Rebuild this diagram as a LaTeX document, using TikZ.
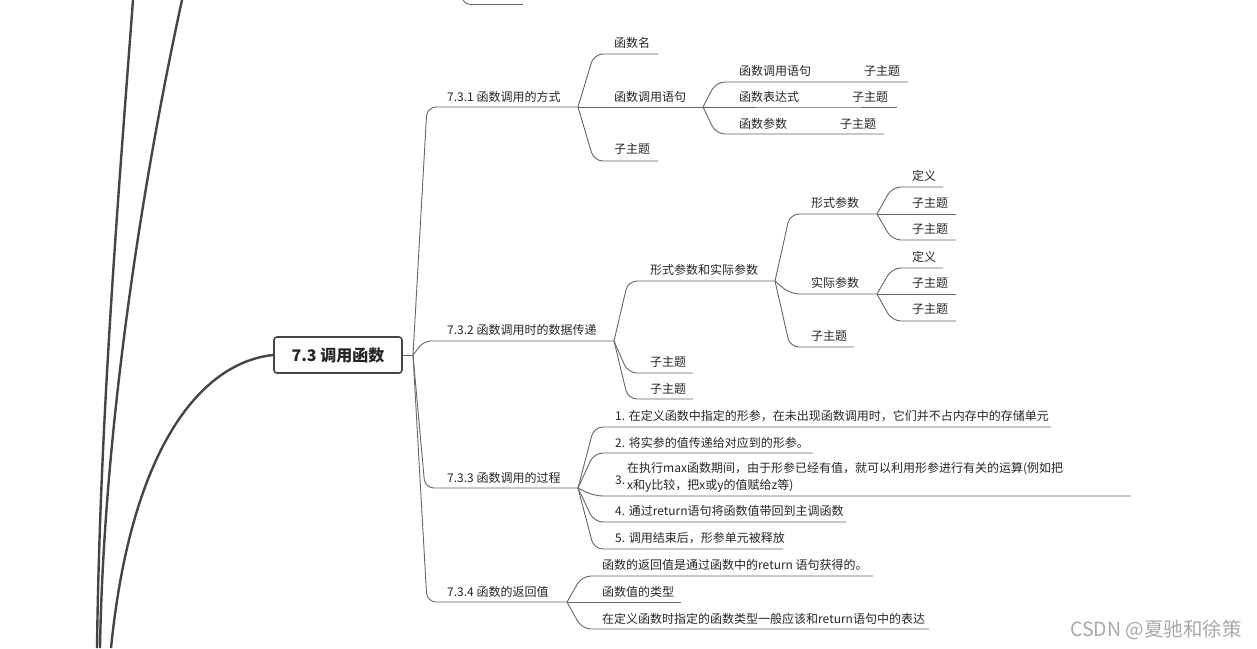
\documentclass[tikz,border=0pt]{standalone}
\usepackage{fontspec}
\setmainfont{Noto Sans CJK SC}
\definecolor{txtc}{HTML}{262626}
\definecolor{linec}{HTML}{666666}
\definecolor{boldc}{HTML}{454545}
\definecolor{wmc}{HTML}{A8A8A8}
\begin{document}
\begin{tikzpicture}[x=1pt,y=-1pt,
  txt/.style={anchor=west,inner sep=0pt,text=txtc,font=\fontsize{12}{16}\selectfont},
  ln/.style={draw=linec,line width=0.9pt,rounded corners=9pt},
  big/.style={draw=boldc,line width=2.4pt},
  central/.style={draw=boldc,line width=1.6pt,fill=white,rounded corners=3pt,minimum width=128pt,minimum height=36pt,inner sep=0pt,text=txtc,font=\fontsize{16}{18}\selectfont\bfseries}]
\useasboundingbox (0,0) rectangle (1257,648);
% big curves on the left
\coordinate (ta) at (133,0); \coordinate (ba) at (97,648);
\coordinate (tb) at (182,0); \coordinate (bb) at (100,648);
\coordinate (bc) at (111,648);
\draw[big] (ta) .. controls (118,200) and (100,420) .. (ba);
\draw[big] (tb) .. controls (145,170) and (104,420) .. (bb);
% stub at top
\coordinate (st0) at (462,-2); \coordinate (st2) at (523,4.5);
\draw[ln,rounded corners=5pt] (st0) -- (465,4.5) -- (st2);
% central
\node[central] (c) at (338,355) {7.3 调用函数};
\draw[big] (c.west) .. controls (205,362) and (132,440) .. (bc);
\coordinate (J0) at (413,355);
\draw[ln] (c.east) -- (J0);
% level 1 coordinates
\coordinate (ak) at (427,107); \coordinate (ae) at (578,107);
\coordinate (bk) at (424,341); \coordinate (be) at (614,341);
\coordinate (ck) at (425,488); \coordinate (ce) at (578,488);
\coordinate (dk) at (427,602); \coordinate (de) at (567,602);
\draw[ln] (J0) -- (ak) -- (ae);
\draw[ln,rounded corners=7pt] (J0) -- (bk) -- (be);
\draw[ln] (J0) -- (ck) -- (ce);
\draw[ln] (J0) -- (dk) -- (de);
\node[txt] (a) at (447,97) {7.3.1 函数调用的方式};
\node[txt] (b) at (447,330) {7.3.2 函数调用时的数据传递};
\node[txt] (cc) at (447,478) {7.3.3 函数调用的过程};
\node[txt] (d) at (447,592) {7.3.4 函数的返回值};
% ---- 7.3.1 children
\coordinate (a1k) at (594,54); \coordinate (a1e) at (658,54);
\coordinate (a2e) at (703,107);
\coordinate (a3k) at (594,161); \coordinate (a3e) at (658,161);
\draw[ln] (ae) -- (a1k) -- (a1e);
\draw[ln] (ae) -- (a2e);
\draw[ln] (ae) -- (a3k) -- (a3e);
\node[txt] (a1) at (614,43) {函数名};
\node[txt] (a2) at (614,97) {函数调用语句};
\node[txt] (a3) at (614,149) {子主题};
% level 3 under a2
\coordinate (a21k) at (716,82); \coordinate (a21e) at (828,82); \coordinate (a21x) at (908,82);
\coordinate (a22e) at (817,107); \coordinate (a22x) at (897,107);
\coordinate (a23k) at (716,134); \coordinate (a23e) at (805,134); \coordinate (a23x) at (884,134);
\draw[ln] (a2e) -- (a21k) -- (a21e) -- (a21x);
\draw[ln] (a2e) -- (a22e) -- (a22x);
\draw[ln] (a2e) -- (a23k) -- (a23e) -- (a23x);
\node[txt] (a21) at (739,71) {函数调用语句};
\node[txt] (a21s) at (864,71) {子主题};
\node[txt] (a22) at (739,97) {函数表达式};
\node[txt] (a22s) at (852,97) {子主题};
\node[txt] (a23) at (739,124) {函数参数};
\node[txt] (a23s) at (840,124) {子主题};
% ---- 7.3.2 children
\coordinate (b1k) at (628,281); \coordinate (b1e) at (775,281);
\coordinate (b2k) at (628,373); \coordinate (b2e) at (693,373);
\coordinate (b3k) at (628,399); \coordinate (b3e) at (693,399);
\draw[ln] (be) -- (b1k) -- (b1e);
\draw[ln] (be) -- (b2k) -- (b2e);
\draw[ln] (be) -- (b3k) -- (b3e);
\node[txt] (b1) at (650,270) {形式参数和实际参数};
\node[txt] (b2) at (650,362) {子主题};
\node[txt] (b3) at (650,389) {子主题};
\coordinate (b11k) at (790,214); \coordinate (b11e) at (877,214);
\coordinate (b12k) at (790,294); \coordinate (b12e) at (877,294);
\coordinate (b13k) at (790,347); \coordinate (b13e) at (854,347);
\draw[ln] (b1e) -- (b11k) -- (b11e);
\draw[ln] (b1e) -- (b12k) -- (b12e);
\draw[ln] (b1e) -- (b13k) -- (b13e);
\node[txt] (b11) at (811,203) {形式参数};
\node[txt] (b12) at (811,283) {实际参数};
\node[txt] (b13) at (811,336) {子主题};
% under 形式参数
\coordinate (p1k) at (892,187); \coordinate (p1e) at (943,187);
\coordinate (p2e) at (956,214);
\coordinate (p3k) at (892,240); \coordinate (p3e) at (956,240);
\draw[ln] (b11e) -- (p1k) -- (p1e);
\draw[ln] (b11e) -- (p2e);
\draw[ln] (b11e) -- (p3k) -- (p3e);
\node[txt] (p1) at (912,176) {定义};
\node[txt] (p2) at (912,203) {子主题};
\node[txt] (p3) at (912,229) {子主题};
% under 实际参数
\coordinate (q1k) at (892,268); \coordinate (q1e) at (943,268);
\coordinate (q2e) at (956,294);
\coordinate (q3k) at (892,321); \coordinate (q3e) at (956,321);
\draw[ln] (b12e) -- (q1k) -- (q1e);
\draw[ln] (b12e) -- (q2e);
\draw[ln] (b12e) -- (q3k) -- (q3e);
\node[txt] (q1) at (912,257) {定义};
\node[txt] (q2) at (912,283) {子主题};
\node[txt] (q3) at (912,309) {子主题};
% ---- 7.3.3 children
\coordinate (c1k) at (594,427); \coordinate (c1e) at (1051,427);
\coordinate (c2k) at (594,453); \coordinate (c2e) at (813,453);
\coordinate (c3k) at (594,496); \coordinate (c3e) at (1131,496);
\coordinate (c4k) at (594,522); \coordinate (c4e) at (846,522);
\coordinate (c5k) at (594,549); \coordinate (c5e) at (783,549);
\draw[ln] (ce) -- (c1k) -- (c1e);
\draw[ln] (ce) -- (c2k) -- (c2e);
\draw[ln] (ce) -- (c3k) -- (c3e);
\draw[ln] (ce) -- (c4k) -- (c4e);
\draw[ln] (ce) -- (c5k) -- (c5e);
\node[txt] (c1) at (615,416) {1. 在定义函数中指定的形参，在未出现函数调用时，它们并不占内存中的存储单元};
\node[txt] (c2) at (615,443) {2. 将实参的值传递给对应到的形参。};
\node[txt] (c3n) at (615,480) {3.};
\node[txt,align=left,font=\fontsize{12}{17}\selectfont] (c3) at (627,477) {在执行max函数期间，由于形参已经有值，就可以利用形参进行有关的运算(例如把\\x和y比较，把x或y的值赋给z等)};
\node[txt] (c4) at (615,511) {4. 通过return语句将函数值带回到主调函数};
\node[txt] (c5) at (615,538) {5. 调用结束后，形参单元被释放};
% ---- 7.3.4 children
\coordinate (d1k) at (582,576); \coordinate (d1e) at (873,576);
\coordinate (d2e) at (681,602);
\coordinate (d3k) at (582,629); \coordinate (d3e) at (929,629);
\draw[ln] (de) -- (d1k) -- (d1e);
\draw[ln] (de) -- (d2e);
\draw[ln] (de) -- (d3k) -- (d3e);
\node[txt] (d1) at (602,565) {函数的返回值是通过函数中的return 语句获得的。};
\node[txt] (d2) at (602,592) {函数值的类型};
\node[txt] (d3) at (602,619) {在定义函数时指定的函数类型一般应该和return语句中的表达};
% watermark
\node[anchor=west,inner sep=0pt,text=wmc,font=\fontsize{19.5}{22}\selectfont] (wm) at (1070,630) {CSDN @夏驰和徐策};
\end{tikzpicture}
\end{document}
